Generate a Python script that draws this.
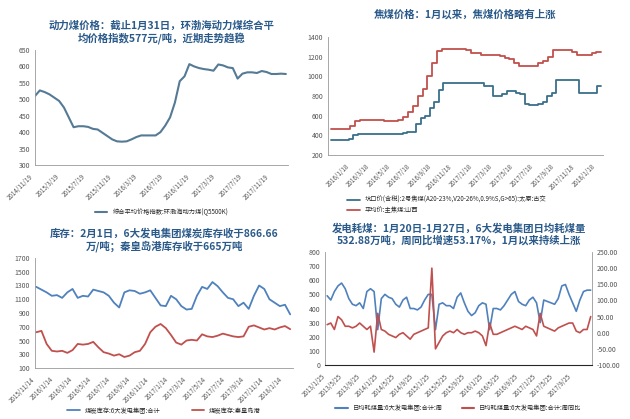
import numpy as np, pandas as pd, matplotlib
matplotlib.use("Agg")
import matplotlib.pyplot as plt, seaborn as sns

sns.set_style("white")
plt.rcParams["font.family"] = ["Noto Sans CJK SC", "DejaVu Sans"]
plt.rcParams["font.sans-serif"] = ["Noto Sans CJK SC", "DejaVu Sans"]
plt.rcParams["axes.unicode_minus"] = False

# --- panel 1: thermal coal price index
p1_vals = [510,527,522,515,505,495,475,445,415,418,418,416,410,408,398,388,378,372,371,372,378,385,390,390,390,390,400,420,445,490,555,570,607,600,595,592,590,587,606,603,597,595,563,578,582,582,580,586,583,577,577,578,577]
p1_ticks = ["2014/11/19","2015/3/19","2015/7/19","2015/11/19","2016/3/19","2016/7/19","2016/11/19","2017/3/19","2017/7/19","2017/11/19"]
# --- panel 2: coking coal
p2_red = [460,460,460,465,500,545,560,560,560,560,555,550,550,550,555,590,640,700,800,870,1000,1140,1260,1280,1280,1280,1275,1275,1265,1240,1235,1220,1220,1220,1220,1210,1190,1180,1140,1110,1110,1110,1110,1140,1160,1200,1270,1270,1270,1270,1250,1220,1220,1220,1235,1250,1250]
p2_blue = [350,350,350,350,360,400,410,410,410,410,410,415,415,415,415,415,420,430,430,520,580,600,680,740,860,930,930,930,930,930,930,930,930,930,905,900,800,800,820,850,850,830,820,720,710,710,720,740,800,830,960,960,960,960,960,830,830,830,830,900,900]
p2_ticks = ["2016/1/18","2016/3/18","2016/5/18","2016/7/18","2016/9/18","2016/11/18","2017/1/18","2017/3/18","2017/5/18","2017/7/18","2017/9/18","2017/11/18","2018/1/18"]
# --- panel 3: stocks
p3_blue = [1280,1240,1200,1150,1160,1120,1200,1250,1120,1150,1140,1240,1220,1200,1150,1050,980,1200,1230,1220,1180,1200,1230,1120,1010,1000,1150,1100,1000,950,960,1150,1280,1250,1350,1290,1200,1120,1100,1000,1050,960,1150,1300,1250,1100,1050,1000,1020,880]
p3_red = [620,640,450,350,340,350,320,360,450,440,450,480,400,330,310,280,300,260,280,330,350,450,620,700,740,680,580,470,440,500,510,500,590,560,550,570,600,580,560,550,560,700,720,690,660,680,660,690,710,665]
p3_ticks = ["2015/11/14","2016/1/14","2016/3/14","2016/5/14","2016/7/14","2016/9/14","2016/11/14","2017/1/14","2017/3/14","2017/5/14","2017/7/14","2017/9/14","2017/11/14","2018/1/14"]
# --- panel 4: power plant consumption
p4_blue = [490,460,520,560,580,540,470,430,420,440,400,520,540,520,250,470,500,480,470,430,410,460,480,400,400,390,410,460,500,500,250,430,440,420,420,400,480,510,440,380,350,370,420,440,430,250,400,400,390,420,460,500,520,450,430,420,460,480,440,300,460,450,440,430,470,560,570,500,440,380,460,520,530,530]
p4_red = [25,30,10,50,40,20,20,15,20,30,20,10,20,-60,60,10,5,-5,-10,-15,-5,0,-10,-20,-5,0,5,10,15,200,-50,-30,-10,0,5,0,10,0,-5,0,0,5,0,-10,-40,30,-5,-5,0,5,10,15,20,15,10,20,15,10,-10,60,20,15,10,5,15,20,25,30,30,5,0,10,10,50]
p4_ticks = ["2013/1/25","2013/5/25","2013/9/25","2014/1/25","2014/5/25","2014/9/25","2015/1/25","2015/5/25","2015/9/25","2016/1/25","2016/5/25","2016/9/25","2017/1/25","2017/5/25","2017/9/25"]

TC = "#2a5a8a"
fig = plt.figure(figsize=(6.3, 4.19), dpi=100)

def dates(start, end, n):
    return pd.date_range(start, end, periods=n)

def style(ax, ticks, ymin, ymax, step):
    td = pd.to_datetime(ticks, format="%Y/%m/%d")
    ax.set_xticks(td)
    ax.set_xticklabels(ticks, rotation=45, ha="right", fontsize=4.5, color="#555")
    ax.set_ylim(ymin, ymax)
    ax.set_yticks(np.arange(ymin, ymax + 1, step))
    ax.tick_params(axis="y", labelsize=5, colors="#555", length=0)
    ax.tick_params(axis="x", length=2, colors="#555")
    for s in ["top", "right"]:
        ax.spines[s].set_visible(False)
    for s in ["left", "bottom"]:
        ax.spines[s].set_color("#999"); ax.spines[s].set_linewidth(0.6)
    ax.set_xlabel(""); ax.set_ylabel("")

# panel 1
ax1 = fig.add_axes([35/630, 1-165/419, 253/630, 115/419])
d = pd.DataFrame({"d": dates("2014-11-19", "2018-01-31", len(p1_vals)), "v": p1_vals})
sns.lineplot(data=d, x="d", y="v", ax=ax1, color="#557a95", lw=1.5, label="综合平均价格指数:环渤海动力煤(Q5500K)")
style(ax1, p1_ticks, 300, 650, 50)
ax1.set_xlim(pd.Timestamp("2014-11-19"), pd.Timestamp("2018-02-10"))
ax1.legend(loc="upper center", bbox_to_anchor=(0.5, -0.33), frameon=False, fontsize=4.5, handlelength=2)
ax1.set_title("动力煤价格：截止1月31日，环渤海动力煤综合平\n均价格指数577元/吨，近期走势趋稳", fontsize=7.5, color=TC, fontweight="bold", pad=6)

# panel 2
ax2 = fig.add_axes([328/630, 1-155/419, 275/630, 118/419])
dr = pd.DataFrame({"d": dates("2015-11-18", "2018-01-31", len(p2_red)), "v": p2_red})
db = pd.DataFrame({"d": dates("2015-11-18", "2018-01-31", len(p2_blue)), "v": p2_blue})
sns.lineplot(data=db, x="d", y="v", ax=ax2, color="#3a6f8a", lw=1.3, drawstyle="steps-post", label="坑口价(含税):2号焦煤(A20-23%,V20-26%,0.9%S,G>65):太原:古交")
sns.lineplot(data=dr, x="d", y="v", ax=ax2, color="#c0504d", lw=1.3, drawstyle="steps-post", label="平均价:主焦煤:山西")
style(ax2, p2_ticks, 200, 1400, 200)
ax2.set_xlim(pd.Timestamp("2015-11-10"), pd.Timestamp("2018-02-05"))
ax2.legend(loc="upper left", bbox_to_anchor=(0.05, -0.3), frameon=False, fontsize=4.5, handlelength=2, labelspacing=0.3)
ax2.set_title("焦煤价格：1月以来，焦煤价格略有上涨", fontsize=7.5, color=TC, fontweight="bold", pad=14)

# panel 3
ax3 = fig.add_axes([35/630, 1-368/419, 258/630, 110/419])
d3b = pd.DataFrame({"d": dates("2015-11-14", "2018-02-01", len(p3_blue)), "v": p3_blue})
d3r = pd.DataFrame({"d": dates("2015-11-14", "2018-02-01", len(p3_red)), "v": p3_red})
sns.lineplot(data=d3b, x="d", y="v", ax=ax3, color="#4f81bd", lw=1.3, label="煤炭库存:6大发电集团:合计")
sns.lineplot(data=d3r, x="d", y="v", ax=ax3, color="#c0504d", lw=1.3, label="煤炭库存:秦皇岛港")
style(ax3, p3_ticks, 100, 1700, 200)
ax3.set_xlim(pd.Timestamp("2015-11-10"), pd.Timestamp("2018-02-10"))
ax3.legend(loc="upper center", bbox_to_anchor=(0.5, -0.3), frameon=False, fontsize=4.5, ncol=2, handlelength=2, columnspacing=5)
ax3.set_title("库存：2月1日，6大发电集团煤炭库存收于866.66\n万/吨；秦皇岛港库存收于665万吨", fontsize=7.5, color=TC, fontweight="bold", pad=6)

# panel 4
ax4 = fig.add_axes([325/630, 1-365/419, 267/630, 113/419])
d4b = pd.DataFrame({"d": dates("2013-01-25", "2018-01-27", len(p4_blue)), "v": p4_blue})
sns.lineplot(data=d4b, x="d", y="v", ax=ax4, color="#4f81bd", lw=1.2, legend=False)
style(ax4, p4_ticks, 0, 800, 100)
ax4.set_xlim(pd.Timestamp("2013-01-10"), pd.Timestamp("2018-02-05"))
ax4r = ax4.twinx()
d4r = pd.DataFrame({"d": dates("2013-01-25", "2018-01-27", len(p4_red)), "v": p4_red})
sns.lineplot(data=d4r, x="d", y="v", ax=ax4r, color="#c0504d", lw=1.2, legend=False)
ax4r.set_ylim(-100, 250)
ax4r.set_yticks(np.arange(-100, 251, 50))
ax4r.set_yticklabels([f"{v:.2f}" for v in np.arange(-100, 251, 50)])
ax4r.tick_params(axis="y", labelsize=5, colors="#555", length=0)
ax4r.set_ylabel("")
for s in ["top", "left"]:
    ax4r.spines[s].set_visible(False)
ax4r.spines["right"].set_color("#999"); ax4r.spines["right"].set_linewidth(0.6)
from matplotlib.lines import Line2D
ax4.legend([Line2D([], [], color="#4f81bd"), Line2D([], [], color="#c0504d")],
           ["日均耗煤量:6大发电集团:合计:周", "日均耗煤量:6大发电集团:合计:周同比"],
           loc="upper center", bbox_to_anchor=(0.5, -0.3), frameon=False, fontsize=4.5, ncol=2, handlelength=2, columnspacing=3)
ax4.set_title("发电耗煤：1月20日-1月27日，6大发电集团日均耗煤量\n532.88万吨，周同比增速53.17%，1月以来持续上涨", fontsize=7.5, color=TC, fontweight="bold", pad=6)

fig.savefig("out.png", dpi=100)
